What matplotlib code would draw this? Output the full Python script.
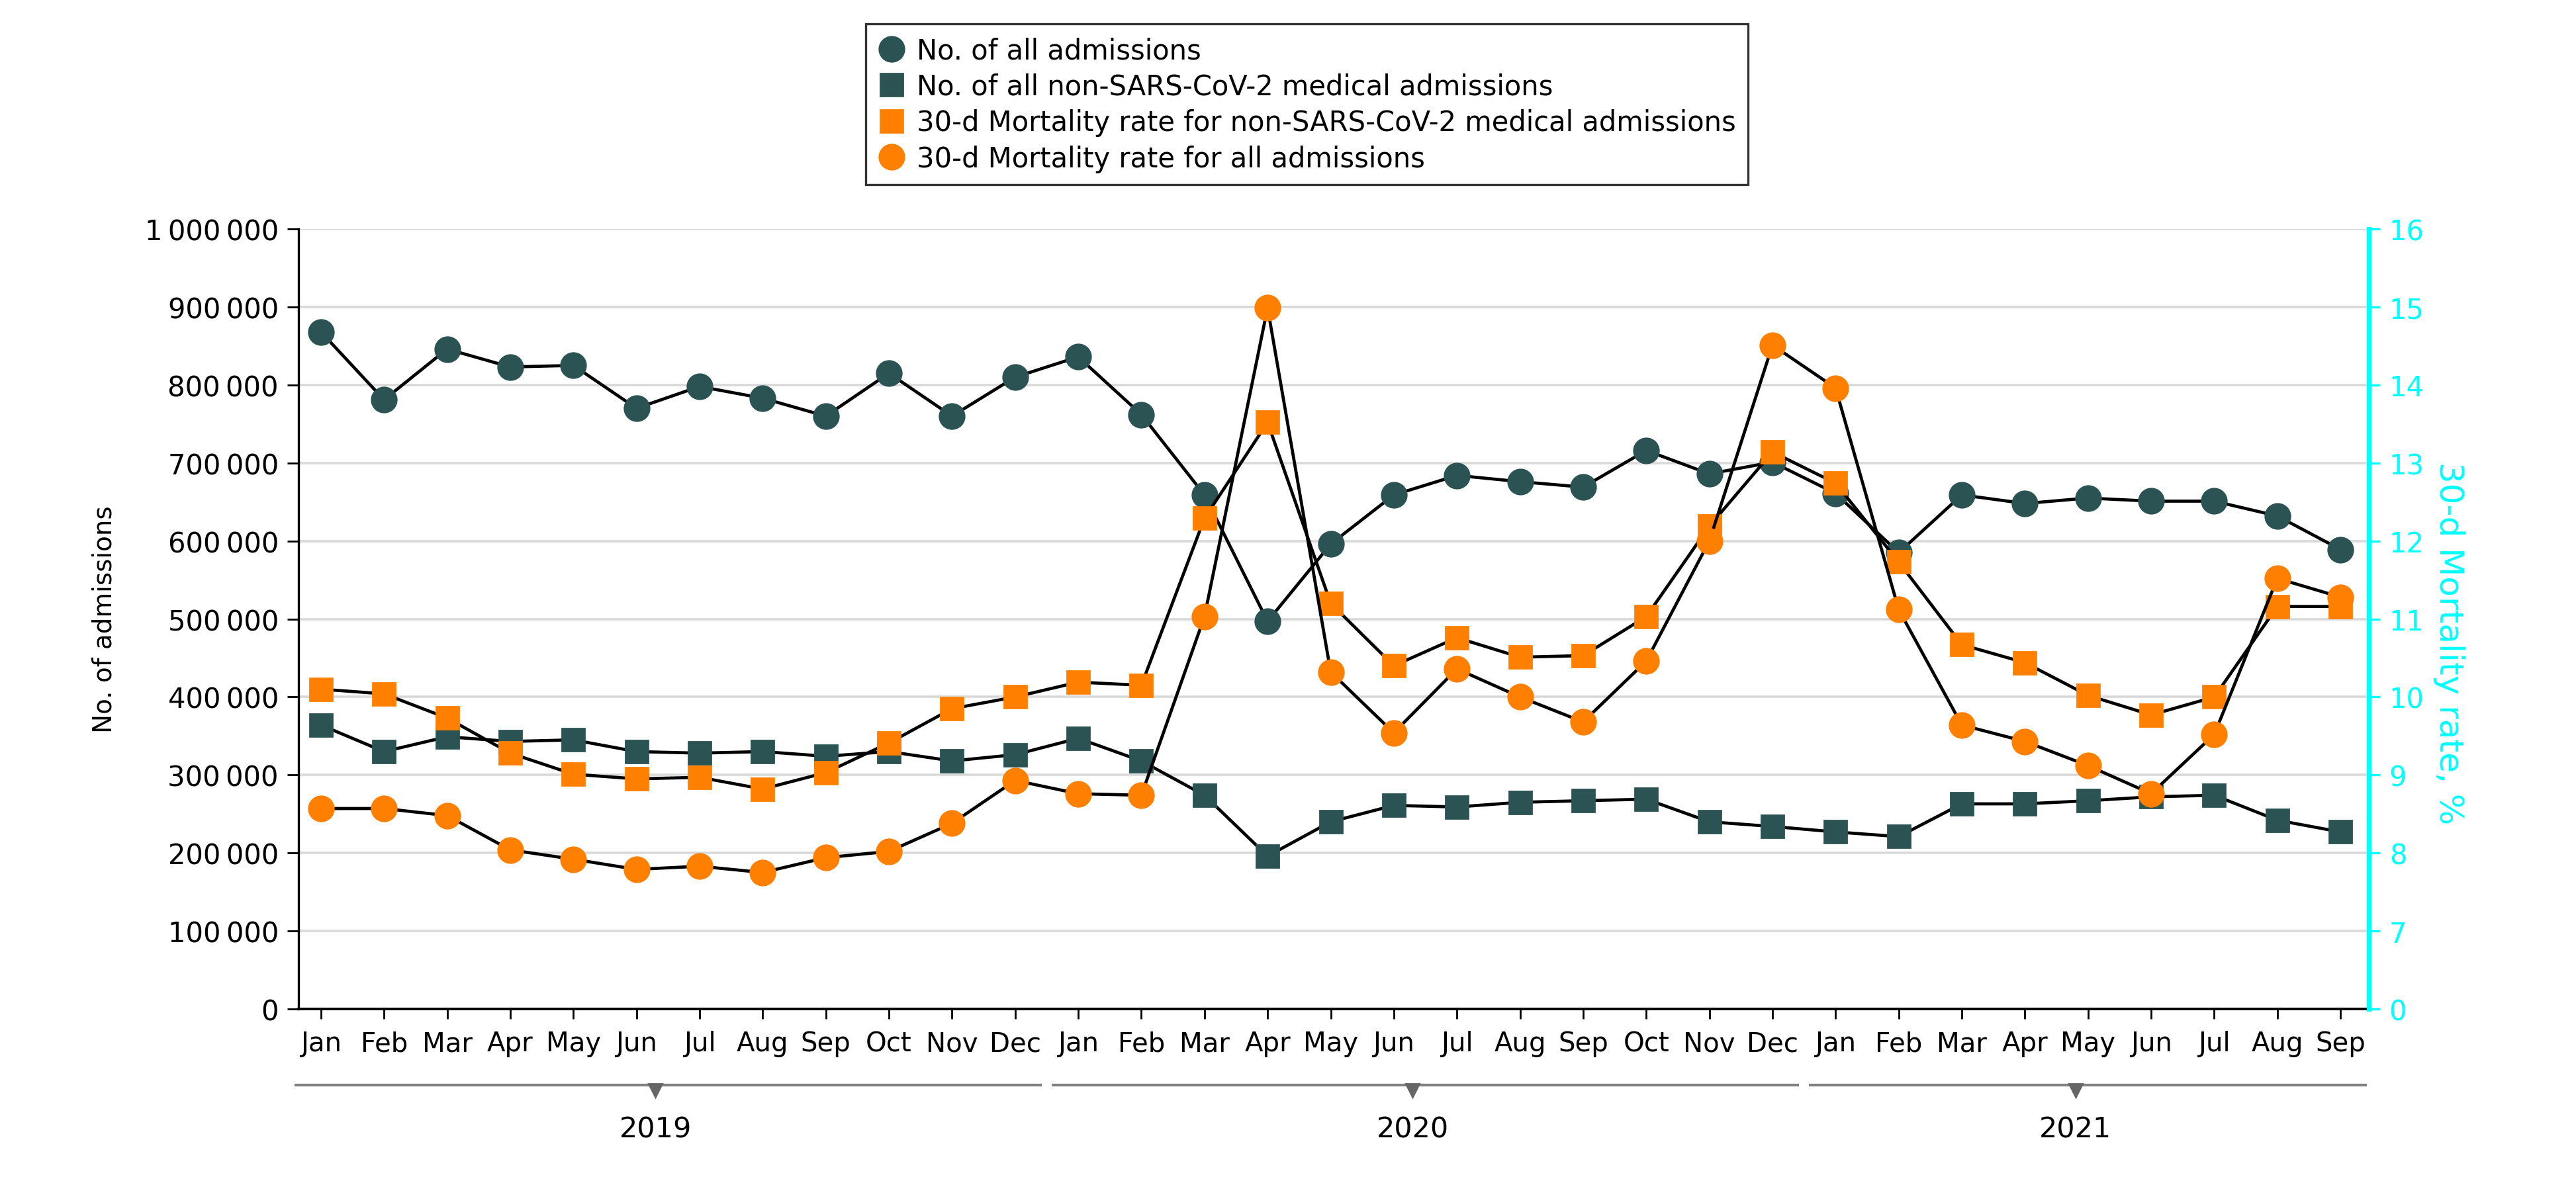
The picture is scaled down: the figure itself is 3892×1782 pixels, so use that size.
import matplotlib
matplotlib.use("Agg")
import matplotlib.pyplot as plt
from matplotlib.lines import Line2D
from matplotlib.ticker import FuncFormatter

plt.rcParams['font.family'] = ['DejaVu Sans']

months = ['Jan', 'Feb', 'Mar', 'Apr', 'May', 'Jun', 'Jul', 'Aug', 'Sep', 'Oct', 'Nov', 'Dec',
          'Jan', 'Feb', 'Mar', 'Apr', 'May', 'Jun', 'Jul', 'Aug', 'Sep', 'Oct', 'Nov', 'Dec',
          'Jan', 'Feb', 'Mar', 'Apr', 'May', 'Jun', 'Jul', 'Aug', 'Sep']
years = ['2019', '2020', '2021']
year_months = [12, 12, 9]

# number of admissions
all_adm = [868000, 781000, 846000, 823000, 825000, 770000, 798000, 783000, 760000, 815000, 760000, 810000,
           836000, 762000, 659000, 497000, 596000, 659000, 684000, 676000, 669000, 716000, 686000, 701000,
           661000, 585000, 659000, 648000, 655000, 651000, 651000, 632000, 589000]
non_covid_adm = [364000, 330000, 349000, 343000, 345000, 330000, 328000, 330000, 324000, 330000, 318000, 326000,
                 347000, 318000, 274000, 196000, 240000, 261000, 259000, 265000, 267000, 269000, 240000, 234000,
                 227000, 221000, 263000, 263000, 267000, 272000, 274000, 242000, 227000]

# 30-d mortality rate, %
mort_non_covid = [10.10, 10.04, 9.73, 9.28, 9.01, 8.95, 8.97, 8.82, 9.03, 9.41, 9.85, 10.00,
                  10.19, 10.15, 12.29, 13.52, 11.20, 10.40, 10.76, 10.51, 10.53, 11.03, 12.19, 13.14,
                  12.74, 11.73, 10.67, 10.44, 10.02, 9.77, 10.00, 11.16, 11.16]
mort_all = [8.57, 8.57, 8.48, 8.04, 7.92, 7.79, 7.83, 7.75, 7.94, 8.02, 8.38, 8.93,
            8.76, 8.74, 11.03, 14.99, 10.32, 9.54, 10.36, 10.00, 9.68, 10.46, 12.00, 14.51,
            13.96, 11.12, 9.64, 9.43, 9.12, 8.76, 9.52, 11.52, 11.28]

dark = '#2b5353'
orange = '#ff8000'
cyan = '#00ffff'
x = list(range(len(months)))

fig = plt.figure(figsize=(19.46, 8.915), dpi=200)
ax = fig.add_axes([0.116, 0.1441, 0.8036, 0.6613])
ax2 = ax.twinx()

ax.plot(x, all_adm, color='black', lw=1.7, marker='o', ms=13.5, mfc=dark, mec=dark, zorder=3)
ax.plot(x, non_covid_adm, color='black', lw=1.7, marker='s', ms=12, mfc=dark, mec=dark, zorder=3)
ax2.plot(x, mort_non_covid, color='black', lw=1.7, marker='s', ms=12, mfc=orange, mec=orange, zorder=3)
ax2.plot(x, mort_all, color='black', lw=1.7, marker='o', ms=13.5, mfc=orange, mec=orange, zorder=3)

ax.set_xlim(-0.35, 32.45)
ax.set_ylim(0, 1000000)
ax.set_yticks(range(0, 1000001, 100000))
ax.yaxis.set_major_formatter(FuncFormatter(lambda v, p: '{:,}'.format(int(v)).replace(',', '\u2009')))
ax.set_xticks(x)
ax.set_xticklabels(months)
ax.grid(axis='y', color='#d9d9d9', lw=1.3)
ax.set_axisbelow(True)
ax.tick_params(axis='y', labelsize=15, length=6, width=1, direction='out', pad=5)
ax.tick_params(axis='x', labelsize=14.5, length=5.5, width=1, direction='out', pad=6)
ax.spines['top'].set_visible(False)
ax.spines['right'].set_visible(False)
ax.spines['left'].set_linewidth(1.2)
ax.spines['bottom'].set_linewidth(1.4)
ax.set_ylabel('No. of admissions', fontsize=14)
ax.yaxis.set_label_coords(-0.088, 0.5)

ax2.set_ylim(6, 16)
ax2.set_yticks(range(6, 17))
ax2.set_yticklabels(['0'] + [str(v) for v in range(7, 17)])
ax2.tick_params(axis='y', colors=cyan, labelsize=15, length=6, width=1.2, pad=5)
ax2.spines['right'].set_color(cyan)
ax2.spines['right'].set_linewidth(2.5)
for s in ['top', 'left', 'bottom']:
    ax2.spines[s].set_visible(False)
ax2.set_ylabel('30-d Mortality rate, %', fontsize=18, color=cyan, rotation=270, va='bottom')
ax2.yaxis.set_label_coords(1.031, 0.47)

# year brackets under the month labels
trans = ax.get_xaxis_transform()
start = 0
for yr, n in zip(years, year_months):
    x0 = start - 0.4
    x1 = start + n - 1 + 0.4
    ax.plot([x0, x1], [-0.0975, -0.0975], color='#808080', lw=1.5, transform=trans, clip_on=False)
    mid = (x0 + x1) / 2 - 0.2
    ax.plot([mid], [-0.104], marker='v', ms=7, color='#666666', transform=trans, clip_on=False)
    ax.text(mid, -0.154, yr, transform=trans, ha='center', va='center', fontsize=15.5)
    start += n

handles = [
    Line2D([], [], ls='none', marker='o', ms=13.5, mfc=dark, mec=dark),
    Line2D([], [], ls='none', marker='s', ms=12, mfc=dark, mec=dark),
    Line2D([], [], ls='none', marker='s', ms=12, mfc=orange, mec=orange),
    Line2D([], [], ls='none', marker='o', ms=13.5, mfc=orange, mec=orange),
]
labels = ['No. of all admissions',
          'No. of all non-SARS-CoV-2 medical admissions',
          '30-d Mortality rate for non-SARS-CoV-2 medical admissions',
          '30-d Mortality rate for all admissions']
leg = fig.legend(handles, labels, loc='upper left', bbox_to_anchor=(0.336, 0.979), fontsize=15,
                 frameon=True, fancybox=False, edgecolor='black', handletextpad=0.4,
                 labelspacing=0.3, borderpad=0.45, handlelength=1.0, borderaxespad=0)
leg.get_frame().set_linewidth(1.2)

fig.savefig('out.png', dpi=200)
